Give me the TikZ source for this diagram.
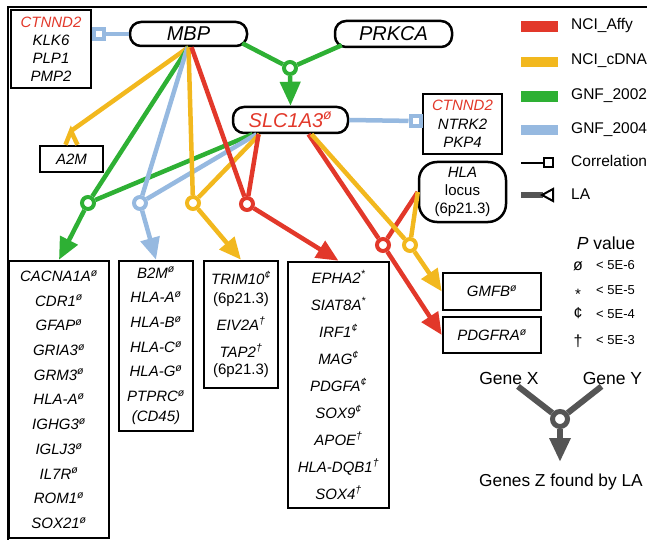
\documentclass[tikz,border=0pt]{standalone}
\usepackage{fontspec}
\setmainfont{Liberation Sans}
\usetikzlibrary{arrows.meta}
\definecolor{cred}{RGB}{226,56,42}
\definecolor{cyel}{RGB}{242,184,30}
\definecolor{cgrn}{RGB}{46,176,52}
\definecolor{cblu}{RGB}{150,185,224}
\definecolor{cgry}{RGB}{85,85,85}
\newcommand\gs[1]{\textsuperscript{#1}}
\tikzset{
  gbox/.style={draw, line width=2.5pt, inner sep=0pt, align=center},
  rgbox/.style={gbox, rounded corners=11pt},
  gfont/.style={font=\fontsize{15}{18}\selectfont\itshape},
  bigfont/.style={font=\fontsize{20}{24}\selectfont\itshape},
  lbl/.style={inner sep=0pt, font=\fontsize{15.5}{18}\selectfont},
  lnk/.style={line width=4.5pt},
  ringnode/.style={circle, draw, fill=white, line width=4pt, minimum size=12pt, inner sep=0pt},
  lahead/.style={-{Triangle[length=22pt,width=19pt]}},
  sqnode/.style={rectangle, draw=cblu, fill=white, line width=4pt, minimum size=10pt, inner sep=0pt},
}
\begin{document}
\begin{tikzpicture}[x=1pt,y=-1pt]
\useasboundingbox (0,0) rectangle (647,540);
% frame
\draw[line width=1.3pt] (8,540) -- (8,7) -- (647,7);

% top nodes
\node[rgbox, minimum width=117pt, minimum height=24pt, bigfont] (mbp) at (188.5,34) {MBP};
\node[rgbox, minimum width=117pt, minimum height=26pt, bigfont] (prk) at (393.5,34) {PRKCA};
\node[rgbox, minimum width=115pt, minimum height=26pt, bigfont, text=cred] (slc) at (290.5,120) {SLC1A3\gs{ø}};

\node[gbox, minimum width=80pt, minimum height=78pt, gfont] (cb1) at (51,49) {\textcolor{cred}{CTNND2}\\KLK6\\PLP1\\PMP2};
\node[gbox, minimum width=79pt, minimum height=60pt, font=\fontsize{15}{18.5}\selectfont\itshape] (cb2) at (462.5,124) {\textcolor{cred}{CTNND2}\\NTRK2\\PKP4};
\node[gbox, rounded corners=18pt, minimum width=87pt, minimum height=60pt, font=\fontsize{15}{18}\selectfont] (hla) at (462.5,192) {\textit{HLA}\\locus\\(6p21.3)};
\node[gbox, minimum width=63pt, minimum height=26pt, gfont] (a2m) at (71.5,159) {A2M};
\node[gbox, minimum width=98pt, minimum height=37pt, gfont] (gmfb) at (492,291.5) {GMFB\gs{ø}};
\node[gbox, minimum width=98pt, minimum height=36pt, gfont] (pdg) at (492,335) {PDGFRA\gs{ø}};

% bottom boxes
\node[gbox, minimum width=100pt, minimum height=277pt, font=\fontsize{15}{24.7}\selectfont\itshape] (cac) at (59,399.5)
  {CACNA1A\gs{ø}\\CDR1\gs{ø}\\GFAP\gs{ø}\\GRIA3\gs{ø}\\GRM3\gs{ø}\\HLA-A\gs{ø}\\IGHG3\gs{ø}\\IGLJ3\gs{ø}\\IL7R\gs{ø}\\ROM1\gs{ø}\\SOX21\gs{ø}};
\node[gbox, minimum width=74pt, minimum height=170pt, font=\fontsize{15}{24.7}\selectfont\itshape] (b2m) at (156,346)
  {B2M\gs{ø}\\HLA-A\gs{ø}\\HLA-B\gs{ø}\\HLA-C\gs{ø}\\HLA-G\gs{ø}\\PTPRC\gs{ø}\\[-4.7pt](CD45)};
\node[gbox, minimum width=74pt, minimum height=127pt, font=\fontsize{15}{19}\selectfont\itshape] (trim) at (241,324.5)
  {TRIM10\gs{¢}\\\textup{(6p21.3)}\\[8pt]EIV2A\gs{†}\\[8pt]TAP2\gs{†}\\[-2pt]\textup{(6p21.3)}};
\node[gbox, minimum width=101pt, minimum height=246pt, font=\fontsize{15}{27}\selectfont\itshape] (epha) at (338.5,385)
  {EPHA2\gs{*}\\SIAT8A\gs{*}\\IRF1\gs{¢}\\MAG\gs{¢}\\PDGFA\gs{¢}\\SOX9\gs{¢}\\APOE\gs{†}\\HLA-DQB1\gs{†}\\SOX4\gs{†}};

% correlation links
\node[sqnode] (sq1) at (98.5,34) {};
\draw[lnk, cblu] (mbp.west) -- (sq1);
\node[sqnode] (sq2) at (415.5,121) {};
\draw[lnk, cblu] (slc.east) -- (sq2);

% rings
\node[ringnode, draw=cgrn] (rgA) at (290,68) {};
\node[ringnode, draw=cgrn] (rgG) at (88,203) {};
\node[ringnode, draw=cblu] (rgB) at (140,203) {};
\node[ringnode, draw=cyel] (rgY1) at (193,203) {};
\node[ringnode, draw=cred] (rgR1) at (247,204) {};
\node[ringnode, draw=cred] (rgR2) at (383,245) {};
\node[ringnode, draw=cyel] (rgY2) at (410,245) {};

% MBP + PRKCA -> SLC1A3
\draw[lnk, cgrn] ([xshift=-6pt,yshift=4pt]mbp.south east) -- (rgA);
\draw[lnk, cgrn] ([xshift=8pt,yshift=3pt]prk.south west) -- (rgA);
\draw[lnk, cgrn, -{Triangle[length=24pt,width=20pt]}] (rgA) -- (slc.north);

% A2M
\coordinate (a2mtip) at (71,131);
\draw[lnk, cyel] (mbp.south) -- (a2mtip);
\draw[lnk, cyel, line join=miter] ([xshift=-6pt]a2m.north) -- (a2mtip) -- ([xshift=6pt]a2m.north);

% green
\draw[lnk, cgrn] (mbp.south) -- (rgG);
\draw[lnk, cgrn] ([xshift=-38pt]slc.south) -- (rgG);
\draw[lnk, cgrn, lahead] (rgG) -- (cac.north);
% blue
\draw[lnk, cblu] ([xshift=-1pt]mbp.south) -- (rgB);
\draw[lnk, cblu] ([xshift=-34pt]slc.south) -- (rgB);
\draw[lnk, cblu, lahead] (rgB) -- (b2m.north);
% yellow
\draw[lnk, cyel] (mbp.south) -- (rgY1);
\draw[lnk, cyel] ([xshift=-31pt]slc.south) -- (rgY1);
\draw[lnk, cyel, lahead] (rgY1) -- (trim.north);
% red
\draw[lnk, cred] ([xshift=3pt]mbp.south) -- (rgR1);
\draw[lnk, cred] ([xshift=-32pt]slc.south) -- (rgR1);
\draw[lnk, cred, lahead] (rgR1) -- (epha.north);
% right side
\draw[lnk, cred] ([xshift=18pt]slc.south) -- (rgR2);
\draw[lnk, cred] (hla.west) -- (rgR2);
\draw[lnk, cred, lahead] (rgR2) -- (pdg.west);
\draw[lnk, cyel] ([xshift=21pt]slc.south) -- (rgY2);
\draw[lnk, cyel] (hla.west) -- (rgY2);
\draw[lnk, cyel, lahead] (rgY2) -- (gmfb.west);

% legend
\fill[cred] (521,21) rectangle (558,32);
\fill[cyel] (521,57) rectangle (558,67);
\fill[cgrn] (521,91) rectangle (558,102);
\fill[cblu] (521,125) rectangle (558,135);
\node[lbl, anchor=west] (l1) at (571,26) {NCI\_Affy};
\node[lbl, anchor=west] (l2) at (571,61) {NCI\_cDNA};
\node[lbl, anchor=west] (l3) at (571,96) {GNF\_2002};
\node[lbl, anchor=west] (l4) at (571,130) {GNF\_2004};
\coordinate (lc0) at (521,163);
\node[rectangle, draw, line width=2pt, minimum size=9pt, inner sep=0pt, fill=white] (lcsq) at (548,163) {};
\draw[line width=2pt] (lc0) -- (lcsq);
\node[lbl, anchor=west] (l5) at (571,161) {Correlation};
\coordinate (la0) at (521,195);
\coordinate (la1) at (543,195);
\draw[cgry, line width=6pt] (la0) -- (la1);
\draw[line width=2pt, line join=miter, fill=white] (553,189) -- (542,195) -- (553,201) -- cycle;
\node[lbl, anchor=west] (l6) at (571,194) {LA};

% P value
\node[lbl, font=\fontsize{17.5}{20}\selectfont] (pv) at (606,243) {\textit{P} value};
\node[lbl, font=\fontsize{16}{18}\selectfont] (s1) at (578,266) {ø};
\node[lbl, font=\fontsize{15}{18}\selectfont] (s2) at (578,294) {*};
\node[lbl, font=\fontsize{16}{18}\selectfont] (s3) at (578,313) {¢};
\node[lbl, font=\fontsize{16}{18}\selectfont] (s4) at (578,341) {†};
\node[lbl, anchor=west, font=\fontsize{13}{15}\selectfont] (p1) at (596,265) {< 5E-6};
\node[lbl, anchor=west, font=\fontsize{13}{15}\selectfont] (p2) at (596,290) {< 5E-5};
\node[lbl, anchor=west, font=\fontsize{13}{15}\selectfont] (p3) at (596,314) {< 5E-4};
\node[lbl, anchor=west, font=\fontsize{13}{15}\selectfont] (p4) at (596,340) {< 5E-3};

% LA key
\node[lbl, font=\fontsize{17.5}{20}\selectfont] (gx) at (509,378) {Gene X};
\node[lbl, font=\fontsize{17.5}{20}\selectfont] (gy) at (612.5,378) {Gene Y};
\node[ringnode, draw=cgry, line width=5pt, minimum size=15pt] (rgZ) at (560,419) {};
\draw[cgry, line width=6pt] ([xshift=9pt,yshift=-2pt]gx.south) -- (rgZ);
\draw[cgry, line width=6pt] ([xshift=-11pt,yshift=-2pt]gy.south) -- (rgZ);
\coordinate (ztip) at (560,462);
\draw[cgry, line width=6pt, -{Triangle[length=24pt,width=20pt]}] (rgZ) -- (ztip);
\node[lbl, anchor=west, font=\fontsize{17.3}{20}\selectfont] (gz) at (479,482) {Genes Z found by LA};
\end{tikzpicture}
\end{document}
